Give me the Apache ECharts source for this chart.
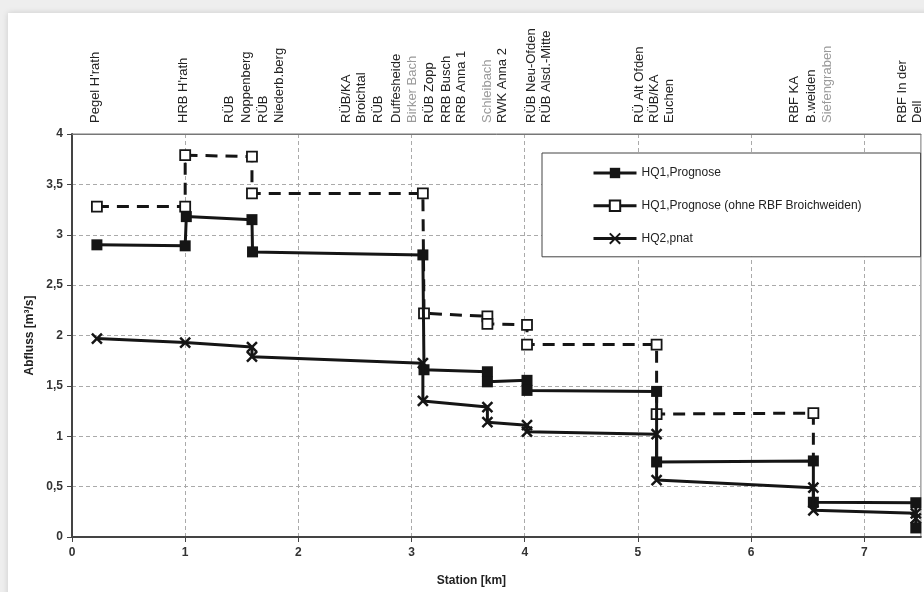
<!DOCTYPE html>
<html>
<head>
<meta charset="utf-8">
<script src="https://cdn.jsdelivr.net/npm/echarts@6/dist/echarts.min.js"></script>
<style>
html,body{margin:0;padding:0;background:#eeeeee;}
#chart{width:924px;height:592px;}
</style>
</head>
<body>
<div id="chart"></div>
<script>
// ---- data ----
var seriesNames = ['HQ1,Prognose', 'HQ1,Prognose (ohne RBF Broichweiden)', 'HQ2,pnat'];

var hq1Station = [0.22, 1.0, 1.01, 1.59, 1.595, 3.1, 3.11, 3.67, 3.67, 4.02, 4.02, 5.165, 5.165, 6.55, 6.55, 7.455, 7.455];
var hq1Flow    = [2.90, 2.89, 3.18, 3.15, 2.83, 2.80, 1.66, 1.64, 1.54, 1.555, 1.455, 1.445, 0.745, 0.755, 0.345, 0.34, 0.09];

var hq1oStation = [0.22, 1.0, 1.0, 1.59, 1.59, 3.1, 3.11, 3.67, 3.67, 4.02, 4.02, 5.165, 5.165, 6.55, 6.55];
var hq1oFlow    = [3.28, 3.28, 3.79, 3.775, 3.41, 3.41, 2.22, 2.19, 2.115, 2.105, 1.91, 1.91, 1.22, 1.23, 0.755];

var hq2Station = [0.22, 1.0, 1.59, 1.59, 3.1, 3.1, 3.67, 3.67, 4.02, 4.02, 5.165, 5.165, 6.55, 6.55, 7.455, 7.455];
var hq2Flow    = [1.97, 1.93, 1.885, 1.79, 1.725, 1.35, 1.29, 1.14, 1.11, 1.045, 1.02, 0.565, 0.49, 0.265, 0.235, 0.185];

// station labels along the top (one entry per text line)
var topLabelStations = [0.203, 0.982, 1.394, 1.542, 1.688, 1.836, 2.425, 2.557, 2.703, 2.866, 3.012, 3.16, 3.307, 3.44,
                        3.674, 3.807, 4.057, 4.19, 5.013, 5.146, 5.278, 6.381, 6.529, 6.675, 7.337, 7.47];
var topLabelTexts = ["Pegel H'rath", "HRB H'rath", "RÜB", "Noppenberg", "RÜB", "Niederb.berg",
                     "RÜB/KA", "Broichtal", "RÜB", "Duffesheide", "Birker Bach", "RÜB Zopp", "RRB Busch", "RRB Anna 1",
                     "Schleibach", "RWK Anna 2", "RÜB Neu-Ofden", "RÜB Alsd.-Mitte",
                     "RÜ Alt Ofden", "RÜB/KA", "Euchen", "RBF KA", "B.weiden", "Siefengraben", "RBF In der", "Dell"];
var topLabelGray = ["Birker Bach", "Schleibach", "Siefengraben"];

var xTicks = [0, 1, 2, 3, 4, 5, 6, 7];

function pairs(xs, ys) { return xs.map(function (x, i) { return [x, ys[i]]; }); }

var FONT = '"Liberation Sans", Arial, sans-serif';
var INK = '#151515';

var hq1oData = pairs(hq1oStation, hq1oFlow).map(function (p, i, arr) {
  return i === arr.length - 1 ? { value: p, symbol: 'none' } : p;
});

var xMark = 'path://M0,0L10,10M10,0L0,10';

var chart = echarts.init(document.getElementById('chart'), null, { renderer: 'canvas' });
chart.setOption({
  animation: false,
  backgroundColor: '#eeeeee',
  textStyle: { fontFamily: FONT },
  graphic: [{
    type: 'rect', z: -10, left: 8, top: 13,
    shape: { width: 930, height: 600 },
    style: { fill: '#ffffff', shadowBlur: 6, shadowColor: 'rgba(0,0,0,0.15)' }
  }],
  grid: { left: 72, right: 3, top: 134, bottom: 55, containLabel: false,
          show: true, borderColor: '#777', borderWidth: 1, backgroundColor: 'transparent' },
  legend: {
    orient: 'vertical', left: 542, top: 153,
    padding: [14, 59, 12, 50], itemGap: 20.5, itemWidth: 43, itemHeight: 13,
    backgroundColor: '#fff', borderColor: '#444', borderWidth: 1,
    lineStyle: { width: 3 },
    textStyle: { fontFamily: FONT, fontSize: 12, color: '#222' },
    data: [
      { name: seriesNames[0] },
      { name: seriesNames[1], lineStyle: { type: 'solid', width: 3 } },
      { name: seriesNames[2] }
    ]
  },
  xAxis: [{
    type: 'value', min: 0, max: 7.5, interval: 1, position: 'bottom',
    name: 'Station [km]', nameLocation: 'middle', nameGap: 38,
    nameTextStyle: { fontFamily: FONT, fontWeight: 'bold', fontSize: 12, color: '#222', padding: [0, 50, 0, 0] },
    axisLine: { lineStyle: { color: '#444', width: 2 } },
    axisTick: { show: true, length: 5, lineStyle: { color: '#444' }, customValues: xTicks },
    axisLabel: { margin: 10, fontFamily: FONT, fontWeight: 'bold', fontSize: 12, color: '#333',
                 customValues: xTicks, showMaxLabel: true },
    splitLine: { show: true, lineStyle: { color: '#aaa', type: [4, 3], width: 1 } }
  }, {
    type: 'value', min: 0, max: 7.5, position: 'top',
    axisLine: { show: true, lineStyle: { color: '#777', width: 1 } },
    axisTick: { show: false },
    splitLine: { show: false },
    axisLabel: {
      customValues: topLabelStations, rotate: -90, margin: 11, showMinLabel: true, showMaxLabel: true,
      fontFamily: FONT, fontSize: 13, color: '#222', hideOverlap: false,
      formatter: function (v) {
        var idx = -1;
        for (var i = 0; i < topLabelStations.length; i++) {
          if (Math.abs(topLabelStations[i] - v) < 1e-6) { idx = i; break; }
        }
        if (idx < 0) return '';
        var t = topLabelTexts[idx];
        return topLabelGray.indexOf(t) >= 0 ? '{g|' + t + '}' : t;
      },
      rich: { g: { color: '#9a9a9a', fontSize: 13, fontFamily: FONT } }
    }
  }],
  yAxis: {
    type: 'value', min: 0, max: 4, interval: 0.5,
    name: 'Abfluss [m³/s]', nameLocation: 'middle', nameGap: 34, nameRotate: 90,
    nameTextStyle: { fontFamily: FONT, fontWeight: 'bold', fontSize: 12, color: '#222' },
    axisLine: { show: true, lineStyle: { color: '#444', width: 2 } },
    axisTick: { show: true, length: 5, lineStyle: { color: '#444' } },
    axisLabel: { margin: 9, fontFamily: FONT, fontWeight: 'bold', fontSize: 12, color: '#333',
                 formatter: function (v) { return String(v).replace('.', ','); } },
    splitLine: { show: true, lineStyle: { color: '#aaa', type: [4, 3], width: 1 } }
  },
  series: [{
    name: seriesNames[1], type: 'line', z: 3,
    data: hq1oData,
    symbol: 'rect', symbolSize: 10,
    lineStyle: { color: INK, width: 3, type: [12, 8] },
    itemStyle: { color: '#fff', borderColor: INK, borderWidth: 1.8 }
  }, {
    name: seriesNames[0], type: 'line', z: 4,
    data: pairs(hq1Station, hq1Flow),
    symbol: 'rect', symbolSize: 11,
    lineStyle: { color: INK, width: 3 },
    itemStyle: { color: INK, borderColor: INK, borderWidth: 0 }
  }, {
    name: seriesNames[2], type: 'line', z: 5,
    data: pairs(hq2Station, hq2Flow),
    symbol: xMark, symbolSize: 10,
    lineStyle: { color: INK, width: 3 },
    itemStyle: { color: 'transparent', borderColor: INK, borderWidth: 2.5 }
  }]
});
</script>
</body>
</html>
